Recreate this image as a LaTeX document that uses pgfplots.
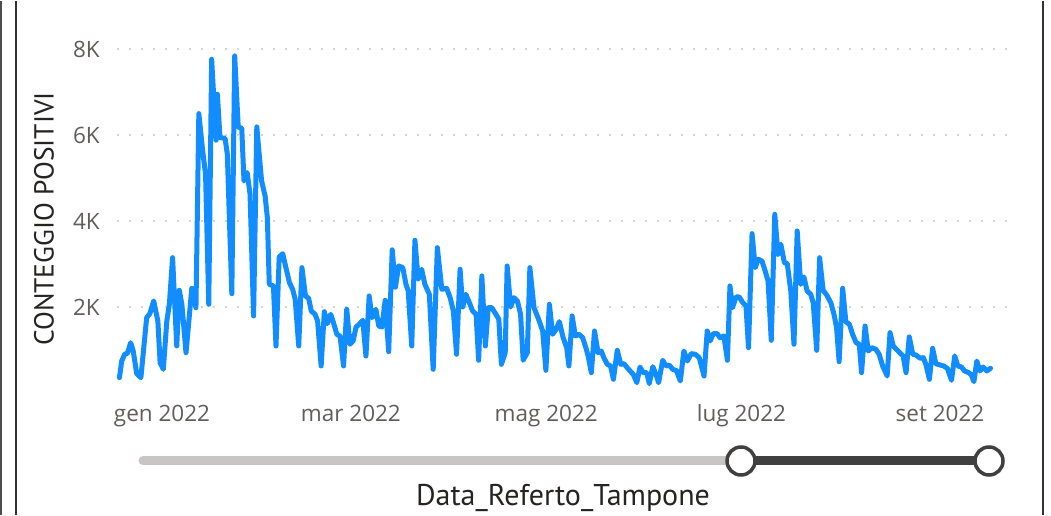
\documentclass[border=0pt]{standalone}
\usepackage{pgfplots}
\pgfplotsset{compat=1.18}
\usepackage{fontspec}
\setmainfont{Open Sans}
\newfontfamily\titlefont{PT Sans}
\definecolor{pbblue}{HTML}{118DFF}
\definecolor{gridgray}{HTML}{C8C6C4}
\definecolor{ticktext}{HTML}{605E5C}
\definecolor{titletext}{HTML}{252423}
\definecolor{slidedark}{HTML}{404040}
\begin{document}
\begin{tikzpicture}[x=1pt,y=1pt]
\fill[white] (0,0) rectangle (1051,514);
\draw[line width=1.5pt, black!70] (0.75,0) -- (0.75,514);
\draw[line width=2pt, black!80] (16,0) -- (16,514);
\draw[line width=2pt, black!80] (1043,0) -- (1043,514);
\begin{axis}[
  at={(118pt,122pt)}, anchor=south west,
  scale only axis, width=890pt, height=344pt,
  xmin=0.25, xmax=278.25, ymin=0, ymax=8000,
  clip=false,
  axis line style={draw=none},
  major tick length=0pt,
  xtick={14,73,134,195,257},
  xticklabels={gen 2022,mar 2022,mag 2022,lug 2022,set 2022},
  ytick={2000,4000,6000,8000},
  yticklabels={2K,4K,6K,8K},
  ymajorgrids,
  grid style={gridgray, line width=2.2pt, line cap=round, dash pattern=on 0pt off 12pt},
  xticklabel style={font=\fontsize{22.5}{25}\selectfont, text=ticktext, anchor=base, yshift=-29pt},
  yticklabel style={font=\fontsize{22.5}{25}\selectfont, text=ticktext, anchor=east, inner sep=0pt, xshift=-18pt},
]
\addplot[pbblue, line width=5pt, line join=round, line cap=round] coordinates {
(0.7,356)(1.4,744)(2.4,907)(3.2,923)(4.2,1170)(5.0,977)(6.1,450)(7.4,356)(9.2,1751)(10.2,1845)(11.4,2140)(12.7,1675)(13.4,705)(14.4,551)(15.5,1675)(16.3,2063)(17.3,3147)(18.6,1093)(19.4,2389)(20.2,2063)(21.5,937)(23.3,2435)(24.6,1984)(25.5,6497)(26.7,5629)(27.6,5087)(28.6,2063)(29.5,7762)(30.9,5878)(31.3,6948)(32.1,5938)(33.7,5924)(34.4,5552)(35.8,2310)(36.7,7839)(37.8,6187)(38.9,6157)(39.6,4931)(40.6,5124)(41.5,4622)(42.6,1791)(43.6,6187)(45.1,4931)(46.2,4582)(46.9,4078)(47.5,2528)(48.8,2489)(49.6,1093)(50.6,3163)(51.7,3240)(52.7,2915)(53.8,2566)(54.8,2412)(55.6,2179)(56.7,1093)(57.7,2915)(58.8,2256)(59.8,2203)(60.6,1907)(61.8,1830)(62.6,1675)(63.7,628)(64.7,1891)(65.6,1612)(66.7,1830)(67.7,1598)(68.6,1365)(69.6,1326)(70.7,628)(71.7,1947)(72.7,1133)(73.7,1210)(74.6,1535)(75.6,1598)(76.7,1691)(77.7,861)(78.7,2256)(79.6,1751)(80.8,1947)(81.7,1558)(82.7,1535)(83.7,2156)(84.8,961)(85.9,3330)(86.9,2460)(87.9,2954)(89.2,2915)(90.2,2528)(90.9,2373)(92.0,1093)(93.0,3552)(94.0,2645)(95.1,2877)(96.1,2528)(97.5,2296)(98.7,551)(100.0,3380)(101.4,2412)(102.9,2435)(104.0,2217)(105.0,1907)(106.0,900)(107.1,2877)(107.9,2000)(108.9,2296)(110.0,2101)(111.0,1907)(112.1,1830)(112.9,761)(113.9,2722)(115.0,1093)(115.9,1984)(117.0,1984)(118.3,1830)(119.2,1714)(120.0,667)(121.2,937)(121.8,2954)(122.9,2000)(123.9,2217)(125.0,2140)(126.0,1830)(126.8,761)(128.1,937)(128.9,2915)(130.2,1984)(131.6,1720)(132.9,1442)(133.9,528)(135.0,2063)(136.0,1365)(137.1,1481)(138.1,1659)(139.3,1286)(140.4,1054)(141.1,628)(142.1,1791)(143.1,1326)(144.3,1365)(145.4,1286)(146.4,1054)(147.1,861)(148.1,473)(149.1,1442)(150.2,937)(151.2,977)(152.0,822)(153.1,667)(154.1,628)(155.0,318)(156.2,993)(157.3,667)(158.3,682)(159.3,589)(160.4,496)(161.2,434)(162.3,240)(163.3,605)(164.3,473)(165.4,473)(166.2,217)(167.3,612)(168.3,434)(169.1,240)(170.4,761)(171.4,628)(172.4,650)(173.5,551)(174.7,520)(175.9,279)(177.0,977)(178.1,744)(179.3,915)(180.6,900)(181.8,822)(183.3,395)(184.3,1442)(185.2,1210)(186.2,1380)(187.4,1380)(188.3,1286)(189.5,1326)(190.6,761)(191.4,2489)(192.2,1984)(193.3,2233)(194.3,2233)(195.4,2101)(196.4,2024)(197.2,1054)(198.3,3705)(199.3,2915)(200.2,3110)(201.4,3070)(202.4,2838)(203.3,2605)(204.3,1225)(205.4,4156)(206.4,3226)(207.3,3459)(208.4,3031)(209.3,3008)(210.4,2373)(211.4,1133)(212.4,3768)(213.5,2528)(214.5,2698)(215.5,2373)(216.6,2300)(217.4,2100)(218.5,993)(219.4,3147)(220.5,2389)(221.6,2280)(222.9,2101)(223.9,1830)(224.7,1519)(225.5,728)(226.6,2435)(227.6,1659)(228.7,1598)(229.7,1365)(230.8,1170)(231.8,1133)(232.5,473)(233.6,1558)(234.6,977)(235.7,1054)(237.0,1016)(238.0,900)(239.1,628)(240.5,395)(241.4,1403)(242.4,1093)(243.7,993)(244.7,915)(245.5,861)(246.4,473)(247.4,1303)(248.5,900)(249.5,884)(250.8,807)(251.8,822)(252.6,667)(253.7,318)(254.7,1039)(255.7,682)(257.0,651)(258.2,628)(259.3,574)(260.6,295)(261.6,861)(262.6,628)(263.7,605)(264.7,512)(266.0,473)(266.8,419)(267.6,263)(268.5,744)(269.5,512)(270.5,605)(271.6,512)(272.8,574)
};
\end{axis}
\node[rotate=90, text=titletext, font=\titlefont\fontsize{27.5}{30}\selectfont] at (44,296) {CONTEGGIO POSITIVI};
\node[text=titletext, font=\titlefont\fontsize{30}{33}\selectfont] at (563,17) {Data\_Referto\_Tampone};
\draw[gridgray, line width=9pt, line cap=round] (143,54) -- (740,54);
\draw[slidedark, line width=9pt] (740,54) -- (990,54);
\draw[slidedark, line width=3.5pt, fill=white] (741,54) circle (14);
\draw[slidedark, line width=3.5pt, fill=white] (989,54) circle (14);
\end{tikzpicture}
\end{document}
